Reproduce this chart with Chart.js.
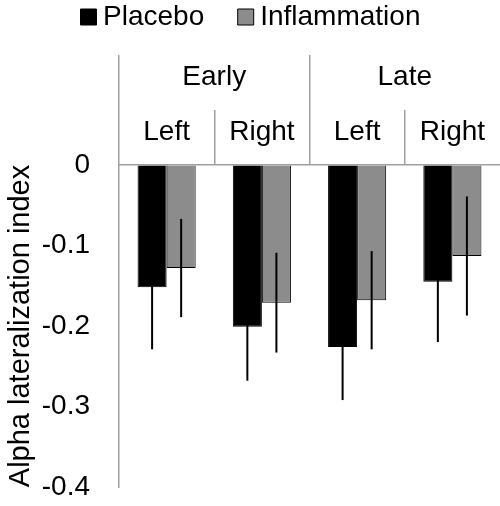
<!DOCTYPE html>
<html><head><meta charset="utf-8">
<script src="https://cdn.jsdelivr.net/npm/chart.js@4"></script>
<style>html,body{margin:0;padding:0;background:#fff}canvas{display:block}</style>
</head><body><canvas id="c" width="500" height="506"></canvas>
<script>
const subCategories = ['Left', 'Right', 'Left', 'Right'];
const groupCategories = ['Early', 'Late'];
const seriesNames = ['Placebo', 'Inflammation'];
const placeboValues = [-0.152, -0.201, -0.226, -0.145];
const placeboErrors = [0.077, 0.067, 0.066, 0.075];
const inflammationValues = [-0.128, -0.171, -0.168, -0.113];
const inflammationErrors = [0.061, 0.062, 0.061, 0.074];
const yTickValues = [0, -0.1, -0.2, -0.3, -0.4];
const yTickLabels = ['0', '-0.1', '-0.2', '-0.3', '-0.4'];
const yAxisTitle = 'Alpha lateralization index';

Chart.defaults.font.family = '"Liberation Sans", Arial, sans-serif';
Chart.defaults.color = '#000';

const gray = '#a0a0a0';
const edgeColor = (c) => (c.type === 'tick' ? gray : 'rgba(0,0,0,0)');

const errorBarPlugin = {
  id: 'errorBars',
  afterDatasetsDraw(chart) {
    const ctx = chart.ctx, y = chart.scales.y;
    chart.data.datasets.forEach((ds, di) => {
      const meta = chart.getDatasetMeta(di);
      meta.data.forEach((bar, i) => {
        const v = ds.data[i], e = ds.errors[i];
        ctx.save();
        ctx.strokeStyle = '#000';
        ctx.lineWidth = 2;
        ctx.beginPath();
        ctx.moveTo(bar.x, y.getPixelForValue(v - e));
        ctx.lineTo(bar.x, y.getPixelForValue(v + e));
        ctx.stroke();
        ctx.restore();
      });
    });
  }
};

const topAxis = (titlePadTop, extra) => Object.assign({
  type: 'category',
  position: 'top',
  offset: true,
  grid: { offset: true, drawOnChartArea: false, tickLength: 55, color: edgeColor, tickColor: edgeColor, lineWidth: 1.5 },
  ticks: { color: '#000', font: { size: 28, lineHeight: 1 }, padding: -36, maxRotation: 0, minRotation: 0, autoSkip: false },
  title: { display: true, text: '', font: { size: 10, lineHeight: 1 }, padding: { top: titlePadTop, bottom: 0 } }
}, extra);

new Chart(document.getElementById('c'), {
  type: 'bar',
  data: {
    labels: subCategories,
    datasets: [
      { label: seriesNames[0], data: placeboValues, errors: placeboErrors, backgroundColor: '#000', borderColor: '#000', borderWidth: 1, categoryPercentage: 0.61, barPercentage: 1 },
      { label: seriesNames[1], data: inflammationValues, errors: inflammationErrors, backgroundColor: '#8c8c8c', borderColor: '#000', borderWidth: 1, categoryPercentage: 0.61, barPercentage: 1 }
    ]
  },
  options: {
    responsive: false,
    animation: false,
    layout: { padding: { top: -38, left: 7.5, right: -1, bottom: 19 } },
    plugins: {
      legend: {
        position: 'top',
        labels: { usePointStyle: true, pointStyle: 'rect', boxWidth: 1, boxHeight: 16, padding: 41, color: '#000', font: { size: 28 } }
      },
      tooltip: { enabled: false }
    },
    scales: {
      x: topAxis(34, { border: { display: true, color: gray, width: 1.5 }, weight: 0 }),
      x2: topAxis(48, { labels: groupCategories, border: { display: false }, weight: 1 }),
      y: {
        min: -0.4, max: 0,
        ticks: {
          stepSize: 0.1, padding: 1, color: '#000', font: { size: 28 },
          callback: (v) => yTickLabels[yTickValues.findIndex(t => Math.abs(t - v) < 1e-9)]
        },
        grid: { display: true, drawOnChartArea: false, drawTicks: true, tickLength: 28, tickColor: 'rgba(0,0,0,0)' },
        border: { display: true, color: gray, width: 1.5 },
        title: { display: true, text: yAxisTitle, color: '#000', font: { size: 29 }, padding: { top: -4, bottom: 0 } },
        afterFit(s) { s.width = 111.5; }
      }
    }
  },
  plugins: [errorBarPlugin]
});
</script>
</body></html>
